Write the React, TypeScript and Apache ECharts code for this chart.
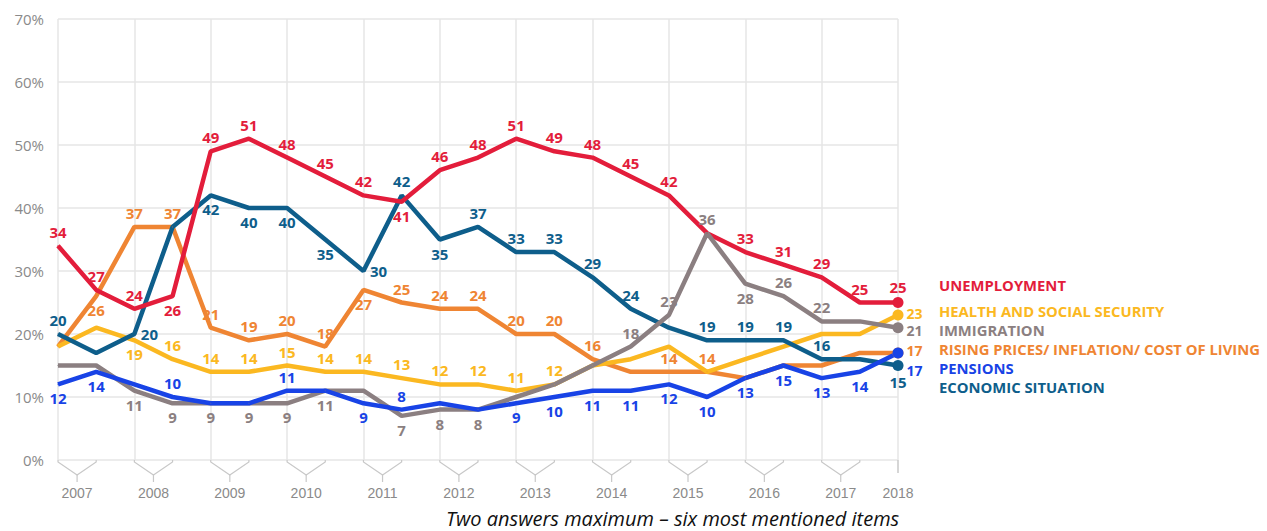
import React, { useEffect, useRef } from 'react';
import * as echarts from 'echarts';

// Survey waves (two per year, 2007–2017, plus 2018)
const waves = [
  '2007 I', '2007 II', '2008 I', '2008 II', '2009 I', '2009 II', '2010 I', '2010 II',
  '2011 I', '2011 II', '2012 I', '2012 II', '2013 I', '2013 II', '2014 I', '2014 II',
  '2015 I', '2015 II', '2016 I', '2016 II', '2017 I', '2017 II', '2018 I',
];

const yearLabels = ['2007', '2008', '2009', '2010', '2011', '2012', '2013', '2014', '2015', '2016', '2017', '2018'];
const yearFirstWave = [0, 2, 4, 6, 8, 10, 12, 14, 16, 18, 20, 22];
const yearLastWave = [1, 3, 5, 7, 9, 11, 13, 15, 17, 19, 21, 22];

const yTicks = [0, 10, 20, 30, 40, 50, 60, 70];

const unemployment = [34, 27, 24, 26, 49, 51, 48, 45, 42, 41, 46, 48, 51, 49, 48, 45, 42, 36, 33, 31, 29, 25, 25];
const economic = [20, 17, 20, 37, 42, 40, 40, 35, 30, 42, 35, 37, 33, 33, 29, 24, 21, 19, 19, 19, 16, 16, 15];
const risingPrices = [18, 26, 37, 37, 21, 19, 20, 18, 27, 25, 24, 24, 20, 20, 16, 14, 14, 14, 13, 15, 15, 17, 17];
const health = [18, 21, 19, 16, 14, 14, 15, 14, 14, 13, 12, 12, 11, 12, 15, 16, 18, 14, 16, 18, 20, 20, 23];
const immigration = [15, 15, 11, 9, 9, 9, 9, 11, 11, 7, 8, 8, 10, 12, 15, 18, 23, 36, 28, 26, 22, 22, 21];
const pensions = [12, 14, 12, 10, 9, 9, 11, 11, 9, 8, 9, 8, 9, 10, 11, 11, 12, 10, 13, 15, 13, 14, 17];

// label placement per point: T top, B bottom, R right, U right-up, D right-down, Q right-below, - none
const unemploymentLbl = 'TTTBTTTTTBTTTTTTT-TTTTT';
const economicLbl = 'T-R-BBBBRTBTTTTT-TTTT-B';
const risingPricesLbl = '-BTTTTTTBTTTTTT-TT----U';
const healthLbl = '--BTTTTTTTTTTT--------U';
const immigrationLbl = '--BBBBBB-BBB---TTTBTT-D';
const pensionsLbl = 'BB-T--T-BT--BBBBBBBBBBQ';

const names = {
  unemployment: 'UNEMPLOYMENT',
  health: 'HEALTH AND SOCIAL SECURITY',
  immigration: 'IMMIGRATION',
  rising: 'RISING PRICES/ INFLATION/ COST OF LIVING',
  pensions: 'PENSIONS',
  economic: 'ECONOMIC SITUATION',
};

const colors = {
  unemployment: '#e31d3b',
  health: '#fbb821',
  immigration: '#8b7f81',
  rising: '#ef8533',
  pensions: '#1843e6',
  economic: '#0e5e8b',
};

const FONT = '"Open Sans", "Noto Sans", sans-serif';

const offsets: Record<string, number[]> = { U: [0, -2], D: [0, 3], Q: [0, 18] };

function makeSeries(name: string, color: string, values: number[], lbl: string) {
  return {
    name,
    type: 'line',
    symbol: 'circle',
    symbolSize: 1,
    showAllSymbol: true,
    lineStyle: { color, width: 4.5 },
    itemStyle: { color },
    emphasis: { disabled: true },
    label: {
      show: true,
      color,
      fontFamily: FONT,
      fontSize: 15,
      fontWeight: 'bold',
    },
    data: values.map((v, i) => {
      const c = lbl[i];
      const last = i === values.length - 1;
      const item: any = { value: v };
      if (last) item.symbolSize = 11;
      if (c === '-') {
        item.label = { show: false };
      } else {
        item.label = {
          show: true,
          position: c === 'T' ? 'top' : c === 'B' ? 'bottom' : 'right',
          distance: last ? 3 : 6,
          offset: offsets[c] || [0, 0],
          fontSize: last && c !== 'T' && c !== 'B' ? 14 : 15,
        };
      }
      return item;
    }),
  };
}

export default function App() {
  const ref = useRef<HTMLDivElement>(null);

  useEffect(() => {
    document.body.style.margin = '0';
    const chart = echarts.init(ref.current as HTMLDivElement, undefined, { renderer: 'svg' });

    const legendText = { fontFamily: FONT, fontSize: 14.8, fontWeight: 'bold' as const };

    chart.setOption({
      animation: false,
      backgroundColor: '#ffffff',
      grid: { left: 58, right: 369, top: 19, bottom: 71, containLabel: false },
      title: {
        text: 'Two answers maximum – six most mentioned items',
        left: 446,
        top: 508,
        padding: 0,
        textStyle: {
          fontFamily: FONT,
          fontStyle: 'italic',
          fontWeight: 'normal',
          fontSize: 20,
          lineHeight: 20,
          color: '#111111',
        },
      },
      legend: [
        {
          data: [{ name: names.unemployment, textStyle: { color: colors.unemployment } }],
          left: 929,
          top: 272,
          orient: 'vertical',
          icon: 'none',
          itemWidth: 0,
          itemHeight: 14,
          padding: 5,
          selectedMode: false,
          textStyle: legendText,
        },
        {
          data: [
            { name: names.health, textStyle: { color: colors.health } },
            { name: names.immigration, textStyle: { color: colors.immigration } },
            { name: names.rising, textStyle: { color: colors.rising } },
            { name: names.pensions, textStyle: { color: colors.pensions } },
            { name: names.economic, textStyle: { color: colors.economic } },
          ],
          left: 929,
          top: 298,
          orient: 'vertical',
          icon: 'none',
          itemWidth: 0,
          itemHeight: 14,
          itemGap: 4.2,
          padding: 5,
          selectedMode: false,
          textStyle: legendText,
        },
      ],
      xAxis: {
        type: 'category',
        data: waves,
        boundaryGap: false,
        axisLine: { show: false },
        axisTick: { show: false },
        axisLabel: { show: false },
        splitLine: { show: true, lineStyle: { color: '#e6e6e6', width: 1.5 } },
      },
      yAxis: {
        type: 'value',
        min: yTicks[0],
        max: yTicks[yTicks.length - 1],
        interval: 10,
        axisLine: { show: false },
        axisTick: { show: false },
        axisLabel: {
          formatter: '{value}%',
          color: '#8a8a8a',
          fontFamily: FONT,
          fontSize: 15,
          margin: 14,
        },
        splitLine: { show: true, lineStyle: { color: '#e6e6e6', width: 1.5 } },
      },
      series: [
        {
          name: 'years',
          type: 'custom',
          silent: true,
          clip: false,
          encode: { x: [0, 1], y: 2 },
          data: yearFirstWave.map((s, i) => [s, yearLastWave[i], 0]),
          renderItem: (params: any, api: any) => {
            const i = params.dataIndex;
            const a = api.coord([api.value(0), 0]);
            const b = api.coord([api.value(1), 0]);
            const mid = (a[0] + b[0]) / 2;
            const y = a[1];
            const stroke = '#c8c8c8';
            const children: any[] = [];
            if (b[0] - a[0] > 1) {
              children.push({
                type: 'polyline',
                shape: { points: [[a[0], y], [a[0], y + 2], [mid, y + 15], [b[0], y + 2], [b[0], y]] },
                style: { stroke, fill: 'none', lineWidth: 1.2 },
              });
              children.push({
                type: 'line',
                shape: { x1: mid, y1: y + 15, x2: mid, y2: y + 22 },
                style: { stroke, lineWidth: 1.2 },
              });
            } else {
              children.push({
                type: 'line',
                shape: { x1: mid, y1: y, x2: mid, y2: y + 13 },
                style: { stroke, lineWidth: 1.5 },
              });
            }
            children.push({
              type: 'text',
              x: mid,
              y: y + 33,
              style: {
                text: yearLabels[i],
                fill: '#8a8a8a',
                fontFamily: '"Liberation Sans", Arial, sans-serif',
                fontSize: 14,
                align: 'center',
                verticalAlign: 'middle',
              },
            });
            return { type: 'group', children };
          },
        },
        makeSeries(names.rising, colors.rising, risingPrices, risingPricesLbl),
        makeSeries(names.health, colors.health, health, healthLbl),
        makeSeries(names.economic, colors.economic, economic, economicLbl),
        makeSeries(names.unemployment, colors.unemployment, unemployment, unemploymentLbl),
        makeSeries(names.immigration, colors.immigration, immigration, immigrationLbl),
        makeSeries(names.pensions, colors.pensions, pensions, pensionsLbl),
      ],
    });

    return () => {
      chart.dispose();
    };
  }, []);

  return <div ref={ref} style={{ width: 1267, height: 531 }} />;
}
